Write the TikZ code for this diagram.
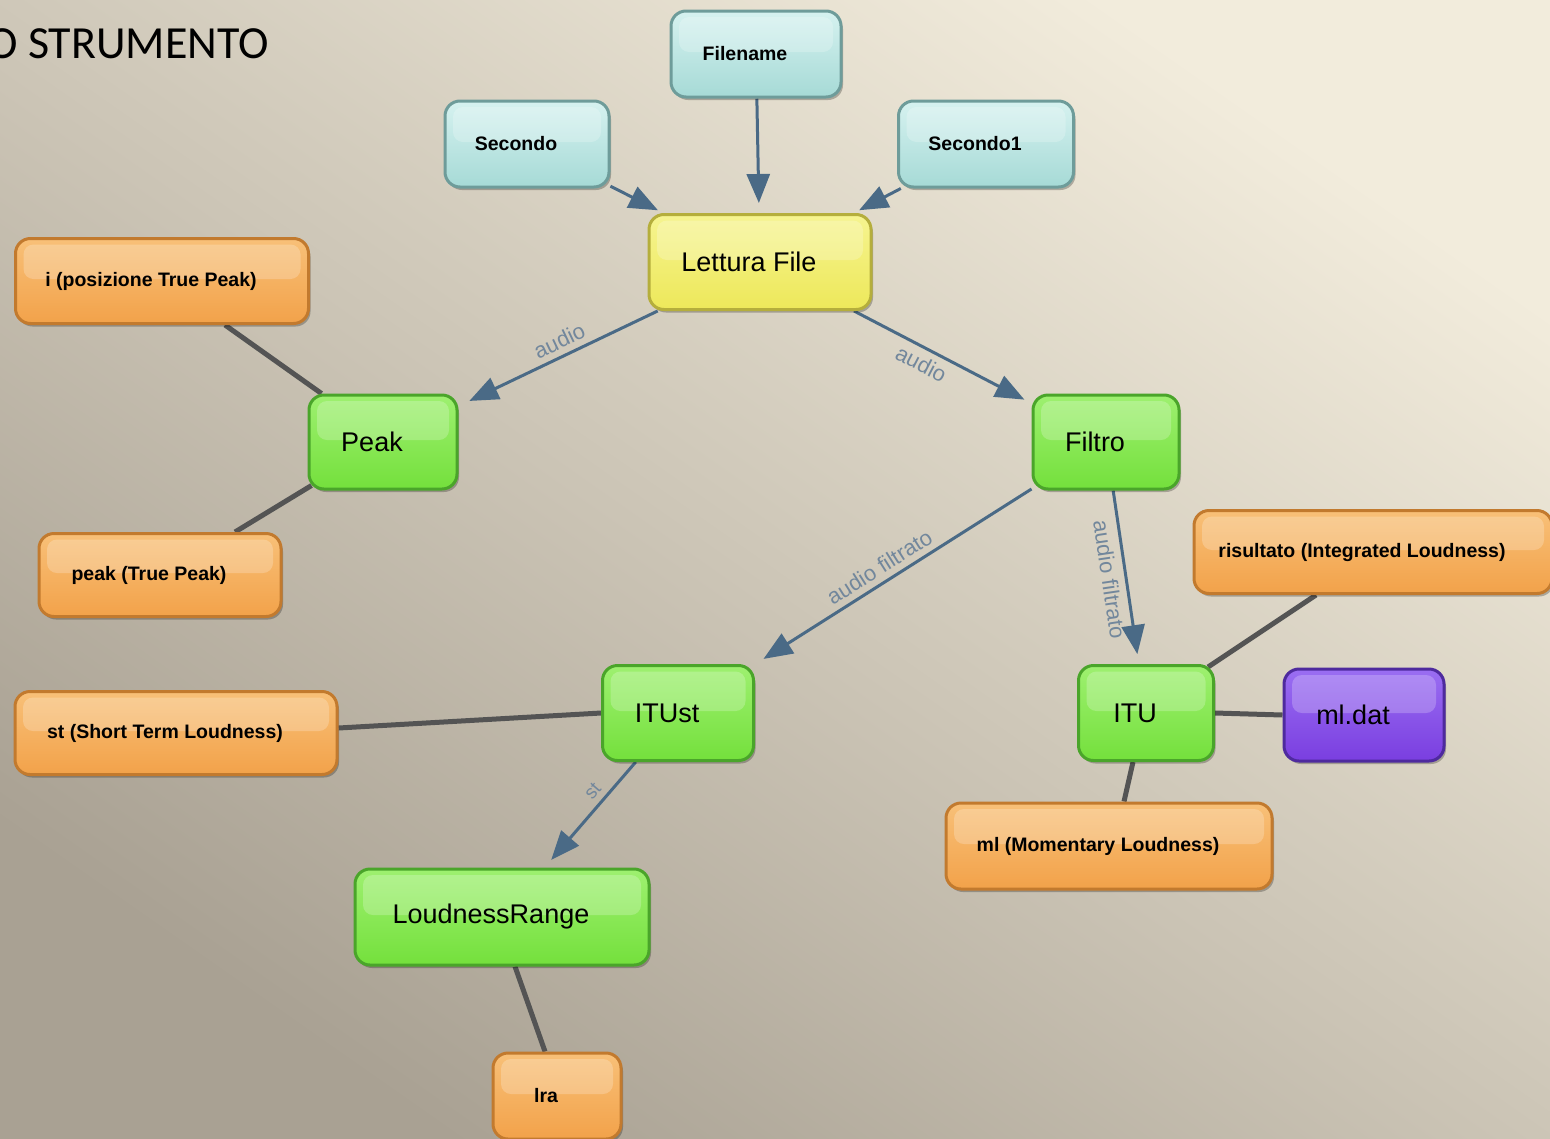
\documentclass[tikz,border=0pt]{standalone}
\usepackage{fontspec}
\setmainfont{Liberation Sans}
\newfontfamily\titlefont{Carlito}
\usetikzlibrary{arrows.meta,shadows,calc}
\pgfdeclarelayer{bglayer}
\pgfdeclarelayer{edgelayer}
\pgfsetlayers{bglayer,edgelayer,main}

\definecolor{bgL}{HTML}{F2ECDC}
\definecolor{bgD}{HTML}{A9A193}
\definecolor{tealB}{HTML}{6E9C9A}
\definecolor{tealL}{HTML}{D6F2F0}
\definecolor{tealD}{HTML}{A6DAD6}
\definecolor{yelB}{HTML}{B5AE3C}
\definecolor{yelL}{HTML}{F6F490}
\definecolor{yelD}{HTML}{EDE85A}
\definecolor{grnB}{HTML}{4AA52A}
\definecolor{grnL}{HTML}{9EF070}
\definecolor{grnD}{HTML}{74E03C}
\definecolor{orgB}{HTML}{C27A2E}
\definecolor{orgL}{HTML}{F8C078}
\definecolor{orgD}{HTML}{F2A24A}
\definecolor{purB}{HTML}{4E2A9E}
\definecolor{purL}{HTML}{9A6EF2}
\definecolor{purD}{HTML}{7A3EE0}
\definecolor{arrC}{HTML}{4A6A86}
\definecolor{labC}{HTML}{72879C}
\definecolor{linkC}{HTML}{545454}

\tikzset{
  cbox/.style={draw, line width=3pt, rounded corners=15pt, inner sep=0pt,
    execute at end node={\hspace*{22pt}},
    drop shadow={shadow xshift=2pt, shadow yshift=-3pt, opacity=0.25, fill=black},
    path picture={\fill[white, opacity=0.22, rounded corners=10pt]
      ($(path picture bounding box.north west)+(8,6)$) rectangle
      ($(path picture bounding box.east)+(-8,-2)$);}},
  smalltxt/.style={font=\fontsize{19.5}{22}\selectfont\bfseries},
  bigtxt/.style={font=\fontsize{27}{30}\selectfont},
  tealbox/.style={cbox, smalltxt, draw=tealB, top color=tealL, bottom color=tealD},
  yellowbox/.style={cbox, bigtxt, draw=yelB, top color=yelL, bottom color=yelD},
  greenbox/.style={cbox, bigtxt, draw=grnB, top color=grnL, bottom color=grnD},
  orangebox/.style={cbox, smalltxt, draw=orgB, top color=orgL, bottom color=orgD},
  purplebox/.style={cbox, bigtxt, draw=purB, top color=purL, bottom color=purD},
  flow/.style={draw=arrC, line width=3pt, -{Triangle[length=29pt,width=23pt]}},
  link/.style={draw=linkC, line width=5pt},
  lbl/.style={text=labC, font=\fontsize{22}{24}\selectfont, inner sep=2pt},
}

\begin{document}
\begin{tikzpicture}[x=1pt,y=-1pt]
\useasboundingbox (0,0) rectangle (1550,1138);
\clip (0,0) rectangle (1550,1138);
\begin{pgfonlayer}{bglayer}
\shade[top color=bgL, bottom color=bgD, shading angle=-35] (0,0) rectangle (1550,1138);
\end{pgfonlayer}

\node[anchor=base east, inner sep=0pt, font=\titlefont\fontsize{46}{50}\selectfont] (title) at (269,58) {O STRUMENTO};

\node[tealbox, minimum width=170, minimum height=86] (filename) at (756,54) {Filename};
\node[tealbox, minimum width=164, minimum height=86] (secondo) at (527,144) {Secondo};
\node[tealbox, minimum width=175, minimum height=86] (secondo1) at (986,144) {Secondo1};
\node[yellowbox, minimum width=222, minimum height=95] (lettura) at (760,262) {Lettura File};
\node[orangebox, minimum width=293, minimum height=85] (ipos) at (162,281) {i (posizione True Peak)};
\node[greenbox, minimum width=148, minimum height=94] (peak) at (383,442) {Peak};
\node[greenbox, minimum width=146, minimum height=94] (filtro) at (1106,442) {Filtro};
\node[orangebox, minimum width=242, minimum height=83] (peaktp) at (160,575) {peak (True Peak)};
\node[orangebox, minimum width=358, minimum height=83] (risultato) at (1373,552) {risultato (Integrated Loudness)};
\node[orangebox, minimum width=322, minimum height=83] (st) at (176,733) {st (Short Term Loudness)};
\node[greenbox, minimum width=151, minimum height=95] (itust) at (678,713) {ITUst};
\node[greenbox, minimum width=135, minimum height=95] (itu) at (1146,713) {ITU};
\node[purplebox, minimum width=160, minimum height=92] (mldat) at (1364,715) {ml.dat};
\node[orangebox, minimum width=326, minimum height=86] (ml) at (1109,846) {ml (Momentary Loudness)};
\node[greenbox, minimum width=294, minimum height=96] (lr) at (502,917) {LoudnessRange};
\node[orangebox, minimum width=128, minimum height=86] (lra) at (557,1096) {lra};

\begin{pgfonlayer}{edgelayer}
\draw[flow, shorten >=10pt] (filename) -- (lettura);
\draw[flow, shorten >=6pt] (secondo) -- (lettura);
\draw[flow, shorten >=6pt] (secondo1) -- (lettura);
\draw[flow, shorten >=12pt] (lettura) -- node[lbl, pos=0.46, sloped, above=4pt] {audio} (peak);
\draw[flow, shorten >=8pt] (lettura) -- node[lbl, pos=0.42, sloped, below=4pt] {audio} (filtro);
\draw[flow, shorten >=10pt] (filtro) -- node[lbl, pos=0.52, sloped, above=4pt] {audio filtrato} (itust);
\draw[flow, shorten >=10pt] (filtro) -- node[lbl, pos=0.5, sloped, below=5pt] {audio filtrato} (itu);
\draw[flow, shorten >=10pt] (itust) -- node[lbl, pos=0.36, sloped, above=4pt, font=\fontsize{19}{21}\selectfont] {st} (lr);

\draw[link] ($(ipos.south)+(63,0)$) -- ($(peak.north west)+(14,0)$);
\draw[link] ($(peak.south west)+(4,-5)$) -- ($(peaktp.north)+(75,0)$);
\draw[link] (itust.west) -- ($(st.east)+(0,-5)$);
\draw[link] ($(lr.south)+(13,0)$) -- ($(lra.north)+(-12,0)$);
\draw[link] ($(itu.north east)+(-7,3)$) -- ($(risultato.south)+(-57,0)$);
\draw[link] (itu.east) -- (mldat.west);
\draw[link] ($(itu.south)+(-13,0)$) -- ($(ml.north)+(15,0)$);
\end{pgfonlayer}
\end{tikzpicture}
\end{document}
